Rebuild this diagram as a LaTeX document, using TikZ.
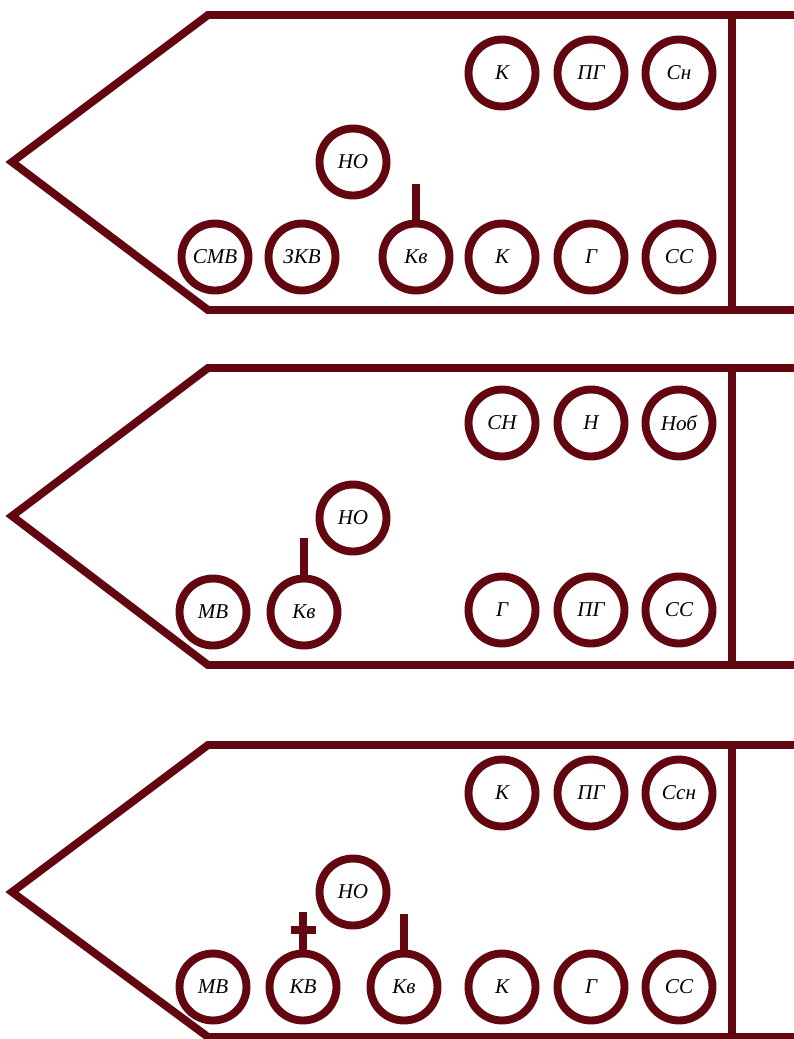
\documentclass[tikz,border=0pt]{standalone}
\usepackage{fontspec}
\setmainfont{Liberation Serif}
\usepackage{tikz}

\definecolor{hullred}{RGB}{98,6,16}
\tikzset{
  hull/.style={draw=hullred,line width=4.5pt,line join=miter},
  post/.style={circle,draw=hullred,line width=4.5pt,minimum size=1.34cm,inner sep=0pt,text=black},
  mast/.style={draw=hullred,line width=4.5pt}
}

\begin{document}
\begin{tikzpicture}[x=0.02cm,y=-0.02cm,font=\fontsize{12}{14}\selectfont\itshape]
\useasboundingbox (0,0) rectangle (794,1039);
% hulls
\foreach \t/\m/\b in {15/162/310,368/516/665,745/892/1037}{
  \draw[hull] (800,\t) -- (208,\t) -- (12,\m) -- (208,\b) -- (800,\b);
  \draw[hull] (732,\t) -- (732,\b);
}
% first panel
\node[post] (k1) at (502,73) {К};
\node[post] (pg1) at (591,73) {ПГ};
\node[post] (sn1) at (679,73) {Сн};
\node[post] (no1) at (353,162) {НО};
\node[post] (smv1) at (215,257) {СМВ};
\node[post] (zkv1) at (302,257) {ЗКВ};
\node[post] (kv1) at (416,257) {Кв};
\node[post] (kk1) at (502,257) {К};
\node[post] (g1) at (591,257) {Г};
\node[post] (ss1) at (679,257) {СС};
\coordinate (kv1t) at (416,184);
\draw[mast] (kv1) -- (kv1t);
% second panel
\node[post] (sn2) at (502,423) {СН};
\node[post] (n2) at (591,423) {Н};
\node[post] (nob2) at (679,423) {Ноб};
\node[post] (no2) at (353,518) {НО};
\node[post] (mv2) at (213,612) {МВ};
\node[post] (kv2) at (304,612) {Кв};
\node[post] (g2) at (502,610) {Г};
\node[post] (pg2) at (591,610) {ПГ};
\node[post] (ss2) at (679,610) {СС};
\coordinate (kv2t) at (304,538);
\draw[mast] (kv2) -- (kv2t);
% third panel
\node[post] (k3) at (502,793) {К};
\node[post] (pg3) at (591,793) {ПГ};
\node[post] (ssn3) at (679,793) {Ссн};
\node[post] (no3) at (353,892) {НО};
\node[post] (mv3) at (213,987) {МВ};
\node[post] (kb3) at (303,987) {КВ};
\node[post] (kv3) at (404,987) {Кв};
\node[post] (kk3) at (502,987) {К};
\node[post] (g3) at (591,987) {Г};
\node[post] (ss3) at (679,987) {СС};
\coordinate (kb3t) at (303,912);
\coordinate (kv3t) at (404,914);
\draw[mast] (kb3) -- (kb3t);
\draw[mast] (291,930) -- (316,930);
\draw[mast] (kv3) -- (kv3t);
\end{tikzpicture}
\end{document}
